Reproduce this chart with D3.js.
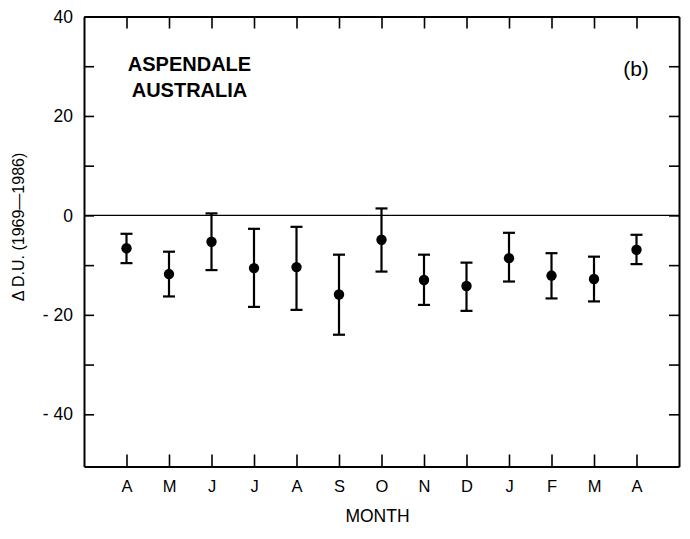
<!DOCTYPE html>
<html>
<head>
<meta charset="utf-8">
<script src="https://cdn.jsdelivr.net/npm/d3@7"></script>
<style>
  html, body { margin: 0; padding: 0; background: #fff; }
  svg { display: block; font-family: "Liberation Sans", Arial, Helvetica, sans-serif; }
</style>
</head>
<body>
<svg id="chart" width="690" height="539"></svg>
<script>
// ---- data ----
const months = ["A", "M", "J", "J", "A", "S", "O", "N", "D", "J", "F", "M", "A"];
const meanValues = [-6.6, -11.8, -5.3, -10.6, -10.4, -15.9, -4.9, -13.0, -14.2, -8.6, -12.1, -12.8, -6.9];
const upperValues = [-3.7, -7.3, 0.4, -2.7, -2.3, -7.9, 1.4, -7.9, -9.5, -3.5, -7.6, -8.3, -3.9];
const lowerValues = [-9.6, -16.3, -11.0, -18.4, -19.0, -24.0, -11.3, -18.0, -19.2, -13.3, -16.7, -17.3, -9.8];
const yLabelTicks = [40, 20, 0, -20, -40];
const yMinorTicks = [30, 10, -10, -30];

const svg = d3.select("#chart");
const L = 84, R = 679, T = 16.5, B = 466.5;

const x = d3.scaleLinear().domain([0, months.length + 1]).range([L, R]);
const y = d3.scaleLinear().domain([-50.5, 40]).range([B, T]);

const data = months.map((m, i) => ({ m, i: i + 1, v: meanValues[i], hi: upperValues[i], lo: lowerValues[i] }));

// zero line
svg.append("line")
  .attr("x1", L).attr("x2", R).attr("y1", y(0)).attr("y2", y(0))
  .attr("stroke", "#000").attr("stroke-width", 1.4);

// axes
const tickIdx = d3.range(1, months.length + 1);
const allY = yLabelTicks.concat(yMinorTicks);

const axB = d3.axisBottom(x).tickValues(tickIdx).tickSizeInner(-12).tickSizeOuter(0)
  .tickFormat((d) => months[d - 1]).tickPadding(14);
const gB = svg.append("g").attr("transform", `translate(0,${B})`).call(axB);
gB.selectAll("text").attr("font-size", 16.5).attr("fill", "#000").attr("dy", "0.71em");

const axT = d3.axisTop(x).tickValues(tickIdx).tickSizeInner(-12).tickSizeOuter(0).tickFormat("");
svg.append("g").attr("transform", `translate(0,${T})`).call(axT);

const axL = d3.axisLeft(y).tickValues(allY).tickSizeInner(-10).tickSizeOuter(0)
  .tickFormat((d) => yLabelTicks.includes(d) ? (d < 0 ? "- " + Math.abs(d) : String(d)) : "")
  .tickPadding(11);
const gL = svg.append("g").attr("transform", `translate(${L},0)`).call(axL);
gL.selectAll("text").attr("font-size", 17.5).attr("fill", "#000");

const axR = d3.axisRight(y).tickValues(allY).tickSizeInner(-10).tickSizeOuter(0).tickFormat("");
svg.append("g").attr("transform", `translate(${R},0)`).call(axR);

svg.selectAll(".domain").attr("stroke", "#000").attr("stroke-width", 2);
svg.selectAll(".tick line").attr("stroke", "#000").attr("stroke-width", 1.6);

// error bars
const eb = svg.append("g");
const cap = 6;
data.forEach((d) => {
  eb.append("line").attr("x1", x(d.i)).attr("x2", x(d.i)).attr("y1", y(d.hi)).attr("y2", y(d.lo))
    .attr("stroke", "#000").attr("stroke-width", 2.2);
  [d.hi, d.lo].forEach((e) => {
    eb.append("line").attr("x1", x(d.i) - cap).attr("x2", x(d.i) + cap).attr("y1", y(e)).attr("y2", y(e))
      .attr("stroke", "#000").attr("stroke-width", 2.2);
  });
});
svg.append("g").selectAll("circle").data(data).join("circle")
  .attr("cx", (d) => x(d.i)).attr("cy", (d) => y(d.v)).attr("r", 5.2).attr("fill", "#000");

// text
svg.append("text").attr("x", 189.5).attr("y", 70.7).attr("text-anchor", "middle")
  .attr("font-size", 20).attr("font-weight", "bold").text("ASPENDALE");
svg.append("text").attr("x", 189.5).attr("y", 96.7).attr("text-anchor", "middle")
  .attr("font-size", 20).attr("font-weight", "bold").text("AUSTRALIA");
svg.append("text").attr("x", 636).attr("y", 76).attr("text-anchor", "middle")
  .attr("font-size", 21).text("(b)");
svg.append("text").attr("x", 377.5).attr("y", 521.7).attr("text-anchor", "middle")
  .attr("font-size", 17.5).text("MONTH");
svg.append("text").attr("transform", "translate(24,227) rotate(-90)").attr("text-anchor", "middle")
  .attr("font-size", 16).text("Δ D.U. (1969—1986)");
</script>
</body>
</html>
